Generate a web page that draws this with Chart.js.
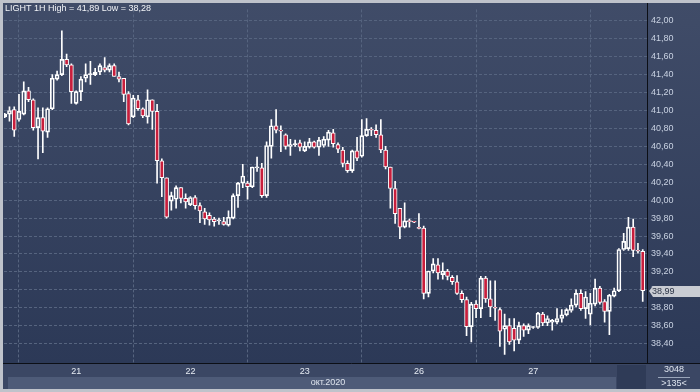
<!DOCTYPE html>
<html>
<head>
<meta charset="utf-8">
<script src="https://cdn.jsdelivr.net/npm/chart.js@4.4.0/dist/chart.umd.min.js"></script>
<style>
  body { margin: 0; background: #bfc3cb; }
  #wrap { width: 700px; height: 392px; }
</style>
</head>
<body>
<div id="wrap"><canvas id="myChart" width="700" height="392"></canvas></div>
<script>
// hourly candles, LIGHT 1H, 20-27 oct 2020
const openPrices = [
  40.93, 40.96, 41.01, 40.90, 40.96, 41.22, 41.12, 40.81, 40.92, 40.76,
  41.02, 41.35, 41.40, 41.57, 41.51, 41.08, 41.21, 41.36, 41.40, 41.40,
  41.43, 41.48, 41.45, 41.50, 41.38, 41.36, 41.19, 40.93, 41.12, 41.02,
  40.93, 41.12, 40.99, 40.44, 40.25, 39.99, 40.01, 40.14, 40.02, 39.95,
  40.03, 39.94, 39.87, 39.83, 39.79, 39.77, 39.76, 39.72, 39.80, 40.05,
  40.19, 40.19, 40.15, 40.36, 40.36, 40.05, 40.60, 40.83, 40.78, 40.73,
  40.60, 40.62, 40.64, 40.55, 40.59, 40.65, 40.59, 40.61, 40.67, 40.75,
  40.62, 40.56, 40.41, 40.33, 40.55, 40.49, 40.72, 40.79, 40.78, 40.73,
  40.56, 40.37, 40.13, 39.91, 39.70, 39.77, 39.76, 39.69, 39.69, 38.96,
  39.21, 39.28, 39.17, 39.21, 39.14, 39.09, 38.96, 38.89, 38.59, 38.84,
  38.79, 39.13, 38.90, 38.80, 38.78, 38.56, 38.60, 38.57, 38.44, 38.60,
  38.55, 38.58, 38.58, 38.73, 38.63, 38.64, 38.64, 38.68, 38.72, 38.77,
  38.83, 38.96, 38.79, 38.73, 38.84, 39.02, 38.87, 38.76, 38.93, 38.99,
  39.45, 39.46, 39.70, 39.44, 39.43
];
const highPrices = [
  40.97, 41.04, 41.04, 41.18, 41.32, 41.26, 41.13, 41.03, 41.03, 41.03,
  41.40, 41.44, 41.89, 41.63, 41.52, 41.22, 41.38, 41.52, 41.55, 41.47,
  41.52, 41.59, 41.52, 41.52, 41.43, 41.36, 41.21, 41.17, 41.17, 41.03,
  41.23, 41.12, 41.07, 40.46, 40.25, 40.09, 40.16, 40.14, 40.07, 40.04,
  40.05, 39.97, 39.91, 39.86, 39.81, 39.80, 39.81, 39.88, 40.07, 40.20,
  40.40, 40.21, 40.37, 40.48, 40.41, 40.65, 40.90, 41.01, 40.83, 40.74,
  40.68, 40.67, 40.67, 40.65, 40.69, 40.66, 40.70, 40.71, 40.78, 40.79,
  40.64, 40.59, 40.44, 40.56, 40.70, 40.90, 40.91, 40.81, 40.84, 40.90,
  40.60, 40.37, 40.21, 39.91, 39.97, 39.79, 39.76, 39.85, 39.71, 39.21,
  39.35, 39.35, 39.30, 39.23, 39.16, 39.16, 38.99, 38.92, 38.86, 38.88,
  39.15, 39.15, 39.10, 39.10, 38.80, 38.73, 38.68, 38.68, 38.64, 38.62,
  38.62, 38.59, 38.75, 38.75, 38.71, 38.67, 38.79, 38.78, 38.79, 38.90,
  39.00, 39.00, 38.98, 38.96, 39.12, 39.04, 38.89, 38.95, 39.02, 39.46,
  39.63, 39.81, 39.79, 39.52, 39.45
];
const lowPrices = [
  40.92, 40.88, 40.71, 40.88, 40.95, 41.10, 40.78, 40.46, 40.53, 40.70,
  41.01, 41.34, 41.39, 41.49, 41.08, 41.07, 41.11, 41.32, 41.29, 41.39,
  41.40, 41.43, 41.43, 41.38, 41.32, 41.10, 40.84, 40.92, 41.00, 40.92,
  40.86, 40.79, 40.19, 40.04, 39.80, 39.89, 39.91, 39.97, 39.91, 39.94,
  39.90, 39.75, 39.73, 39.72, 39.71, 39.73, 39.72, 39.71, 39.79, 39.92,
  40.14, 40.01, 40.14, 40.32, 40.03, 40.03, 40.47, 40.75, 40.54, 40.57,
  40.50, 40.60, 40.55, 40.54, 40.58, 40.58, 40.50, 40.59, 40.60, 40.59,
  40.53, 40.37, 40.31, 40.31, 40.44, 40.48, 40.71, 40.72, 40.70, 40.53,
  40.35, 39.91, 39.74, 39.57, 39.69, 39.70, 39.75, 39.68, 38.90, 38.92,
  39.19, 39.12, 39.12, 39.11, 39.06, 38.95, 38.86, 38.49, 38.42, 38.69,
  38.69, 38.86, 38.70, 38.66, 38.37, 38.28, 38.39, 38.32, 38.40, 38.48,
  38.51, 38.57, 38.57, 38.60, 38.60, 38.55, 38.62, 38.64, 38.71, 38.75,
  38.81, 38.77, 38.68, 38.61, 38.82, 38.84, 38.64, 38.50, 38.92, 38.98,
  39.44, 39.44, 39.37, 39.41, 38.87
];
const closePrices = [
  40.96, 41.00, 40.78, 40.99, 41.22, 41.12, 40.81, 40.92, 40.77, 41.02,
  41.36, 41.40, 41.57, 41.51, 41.21, 41.21, 41.35, 41.40, 41.41, 41.43,
  41.50, 41.45, 41.50, 41.38, 41.35, 41.18, 40.85, 41.14, 41.02, 40.94,
  41.12, 40.99, 40.44, 40.25, 39.81, 40.05, 40.14, 40.02, 39.98, 40.03,
  39.94, 39.88, 39.79, 39.78, 39.76, 39.78, 39.73, 39.81, 40.05, 40.19,
  40.27, 40.15, 40.37, 40.37, 40.05, 40.61, 40.83, 40.78, 40.77, 40.60,
  40.62, 40.63, 40.59, 40.60, 40.65, 40.59, 40.67, 40.68, 40.76, 40.63,
  40.57, 40.41, 40.33, 40.55, 40.47, 40.72, 40.79, 40.78, 40.73, 40.56,
  40.37, 40.13, 39.85, 39.70, 39.77, 39.76, 39.755, 39.685, 38.96, 39.21,
  39.29, 39.19, 39.21, 39.15, 39.09, 38.96, 38.89, 38.59, 38.84, 38.79,
  39.13, 38.90, 38.81, 38.795, 38.54, 38.60, 38.42, 38.44, 38.60, 38.55,
  38.60, 38.585, 38.74, 38.63, 38.68, 38.66, 38.68, 38.72, 38.78, 38.83,
  38.96, 38.79, 38.92, 38.85, 39.02, 38.86, 38.76, 38.94, 38.99, 39.45,
  39.54, 39.70, 39.44, 39.43, 38.99
];

const dayLabels = ["21", "22", "23", "26", "27"];
const dayStarts = [15, 39, 63, 87, 111];
const priceTicks = [38.4, 38.6, 38.8, 39.0, 39.2, 39.4, 39.6, 39.8, 40.0,
                    40.2, 40.4, 40.6, 40.8, 41.0, 41.2, 41.4, 41.6, 41.8, 42.0];
const monthLabel = "окт.2020";
const titleText = "LIGHT 1H High = 41,89 Low = 38,28";
const barsTotal = "3048";
const barsShown = ">135<";

const fmt = v => v.toFixed(2).replace(".", ",");
const FONT = "Liberation Sans";

let upperWicks = [], lowerWicks = [], bodies = [], bodyColors = [];
for (let i = 0; i < openPrices.length; i++) {
  let o = openPrices[i], c = closePrices[i];
  let top = Math.max(o, c), bot = Math.min(o, c);
  upperWicks.push({x: i, y: [top, highPrices[i]]});
  lowerWicks.push({x: i, y: [lowPrices[i], bot]});
  bodies.push({x: i, y: [o, c]});
  bodyColors.push(c < o ? "#c81e3c" : "rgba(0,0,0,0)");
}

// backgrounds, frame and the small panels around the axes
const decor = {
  id: "decor",
  beforeDraw(chart) {
    const ctx = chart.ctx;
    ctx.save();
    ctx.fillStyle = "#bfc3cb";
    ctx.fillRect(0, 0, 700, 392);
    let g = ctx.createLinearGradient(0, 3, 0, 363);
    g.addColorStop(0, "#404c68");
    g.addColorStop(1, "#2c3957");
    ctx.fillStyle = g;
    ctx.fillRect(3, 3, 697, 360);
    ctx.fillStyle = "#3b4764";
    ctx.fillRect(3, 363, 697, 26);
    ctx.fillStyle = "#4e5b78";
    ctx.fillRect(8, 377, 608, 12);
    ctx.fillStyle = "#2f3b57";
    ctx.fillRect(617, 365, 29, 24);
    ctx.restore();
  },
  afterDraw(chart) {
    const ctx = chart.ctx;
    const y = chart.scales.y;
    ctx.save();
    ctx.strokeStyle = "#0c0f16";
    ctx.lineWidth = 1;
    ctx.beginPath();
    ctx.moveTo(647.5, 3);
    ctx.lineTo(647.5, 363);
    ctx.moveTo(3, 363.5);
    ctx.lineTo(700, 363.5);
    ctx.stroke();

    ctx.font = "9px " + FONT;
    ctx.textBaseline = "middle";
    ctx.fillStyle = "#f2f4f8";
    ctx.textAlign = "left";
    ctx.fillText(titleText, 5, 8.5);

    ctx.fillStyle = "#dfe5ef";
    ctx.textAlign = "center";
    ctx.fillText(monthLabel, 328, 383);
    ctx.fillText(barsTotal, 674, 370);
    ctx.fillText(barsShown, 674, 384);
    ctx.strokeStyle = "#9aa6ba";
    ctx.beginPath();
    ctx.moveTo(658, 377.5);
    ctx.lineTo(690, 377.5);
    ctx.stroke();

    // last price tag
    const last = closePrices[closePrices.length - 1];
    const py = Math.round(y.getPixelForValue(last));
    ctx.fillStyle = "#c9ccd3";
    ctx.beginPath();
    ctx.moveTo(649, py);
    ctx.lineTo(653, py - 5);
    ctx.lineTo(700, py - 5);
    ctx.lineTo(700, py + 6);
    ctx.lineTo(653, py + 6);
    ctx.closePath();
    ctx.fill();
    ctx.fillStyle = "#2c3446";
    ctx.textAlign = "left";
    ctx.fillText(fmt(last), 652, py + 0.5);
    ctx.restore();
  }
};

const gridColor = "#56647f";

new Chart(document.getElementById("myChart"), {
  type: "bar",
  data: {
    datasets: [
      {
        data: bodies,
        backgroundColor: bodyColors,
        borderColor: "#ffffff",
        borderWidth: 1,
        borderSkipped: false,
        barThickness: 4,
        minBarLength: 1,
        grouped: false,
        order: 0
      },
      {
        data: upperWicks,
        backgroundColor: "#ffffff",
        borderWidth: 0,
        barThickness: 1,
        grouped: false,
        order: 1
      },
      {
        data: lowerWicks,
        backgroundColor: "#ffffff",
        borderWidth: 0,
        barThickness: 1,
        grouped: false,
        order: 1
      }
    ]
  },
  options: {
    responsive: false,
    animation: false,
    events: [],
    layout: { padding: { left: 4, top: 3, right: 0, bottom: 0 } },
    plugins: { legend: { display: false }, tooltip: { enabled: false } },
    scales: {
      x: {
        type: "linear",
        min: -0.15,
        max: 134.9,
        offset: false,
        afterBuildTicks: s => { s.ticks = dayStarts.map(v => ({ value: v })); },
        afterFit: s => { s.height = 29; },
        grid: { color: gridColor, drawTicks: false },
        border: { display: false, dash: [3, 2] },
        ticks: {
          autoSkip: false,
          maxRotation: 0,
          padding: 3,
          color: "#e6ebf3",
          font: { family: FONT, size: 9 },
          callback: v => dayLabels[dayStarts.indexOf(v)]
        }
      },
      y: {
        position: "right",
        min: 38.184,
        max: 42.128,
        afterBuildTicks: s => { s.ticks = priceTicks.map(v => ({ value: v })); },
        afterFit: s => { s.width = 53; },
        grid: { color: gridColor, drawTicks: false },
        border: { display: false, dash: [3, 2] },
        ticks: {
          padding: 4,
          color: "#c9d2e2",
          font: { family: FONT, size: 9 },
          callback: v => fmt(v)
        }
      }
    }
  },
  plugins: [decor]
});
</script>
</body>
</html>
